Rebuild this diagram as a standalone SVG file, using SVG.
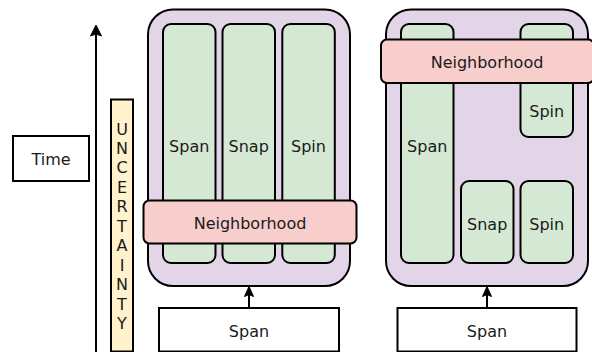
<svg xmlns="http://www.w3.org/2000/svg" width="592" height="352" viewBox="0 0 592 352">
<defs>
<style>
text{font-family:"DejaVu Sans",Verdana,sans-serif;font-size:16px;fill:#1a1a1a;text-anchor:middle}
.o{fill:#e1d5e7;stroke:#000;stroke-width:2}
.c{fill:#d5e8d4;stroke:#000;stroke-width:2}
.n{fill:#f8cecc;stroke:#000;stroke-width:2}
.w{fill:#fff;stroke:#000;stroke-width:2}
.u{fill:#fff2cc;stroke:#000;stroke-width:2}
.l{stroke:#000;stroke-width:2;fill:none}
.h{fill:#000;stroke:#000;stroke-width:1}
</style>
</defs>
<g id="time">
<rect class="w" x="13" y="136" width="76" height="45"/>
<text x="51" y="165">Time</text>
</g>
<g id="uncertainty">
<rect class="u" x="111" y="99.5" width="22" height="252"/>
<text x="122" y="134.5"><tspan x="122">U</tspan><tspan x="122" dy="19.45">N</tspan><tspan x="122" dy="19.45">C</tspan><tspan x="122" dy="19.45">E</tspan><tspan x="122" dy="19.45">R</tspan><tspan x="122" dy="19.45">T</tspan><tspan x="122" dy="19.45">A</tspan><tspan x="122" dy="19.45">I</tspan><tspan x="122" dy="19.45">N</tspan><tspan x="122" dy="19.45">T</tspan><tspan x="122" dy="19.45">Y</tspan></text>
</g>
<g id="left-group">
<rect class="o" x="148" y="9.5" width="202" height="276.5" rx="25" ry="25"/>
<g id="left-span"><rect class="c" x="163" y="24" width="52.5" height="239" rx="8" ry="8"/><text x="189.2" y="151.5">Span</text></g>
<g id="left-snap"><rect class="c" x="222.5" y="24" width="52.5" height="239" rx="8" ry="8"/><text x="248.7" y="151.5">Snap</text></g>
<g id="left-spin"><rect class="c" x="282.3" y="24" width="52.5" height="239" rx="8" ry="8"/><text x="308.5" y="151.5">Spin</text></g>
<g id="left-neighborhood"><rect class="n" x="143.5" y="200.5" width="213" height="43" rx="6" ry="6"/><text x="250" y="229">Neighborhood</text></g>
</g>
<g id="right-group">
<rect class="o" x="386" y="9.5" width="202" height="276.5" rx="25" ry="25"/>
<g id="right-span"><rect class="c" x="401" y="24" width="52.5" height="239" rx="8" ry="8"/><text x="427.2" y="151.5">Span</text></g>
<g id="right-spin-top"><rect class="c" x="520.5" y="24" width="52.5" height="113" rx="8" ry="8"/><text x="546.7" y="116.5">Spin</text></g>
<g id="right-snap"><rect class="c" x="461" y="181" width="52.5" height="82" rx="8" ry="8"/><text x="487.2" y="229.5">Snap</text></g>
<g id="right-spin"><rect class="c" x="520.5" y="181" width="52.5" height="82" rx="8" ry="8"/><text x="546.7" y="229.5">Spin</text></g>
<g id="right-neighborhood"><rect class="n" x="381" y="39.5" width="213" height="43.5" rx="6" ry="6"/><text x="487" y="68">Neighborhood</text></g>
</g>
<g id="left-input"><rect class="w" x="159" y="308" width="180" height="43.5"/><text x="249" y="337">Span</text></g>
<g id="right-input"><rect class="w" x="397.5" y="308" width="179" height="43.5"/><text x="487" y="337">Span</text></g>
<g id="connectors">
<line class="l" x1="96" y1="352" x2="96" y2="33"/>
<path class="h" d="M96 25 L101.5 36 L96 34 L90.5 36 Z"/>
<line class="l" x1="249" y1="308" x2="249" y2="294"/>
<path class="h" d="M249 286.5 L253.5 296.5 L249 294.5 L244.5 296.5 Z"/>
<line class="l" x1="487" y1="308" x2="487" y2="294"/>
<path class="h" d="M487 286.5 L491.5 296.5 L487 294.5 L482.5 296.5 Z"/>
</g>
</svg>
